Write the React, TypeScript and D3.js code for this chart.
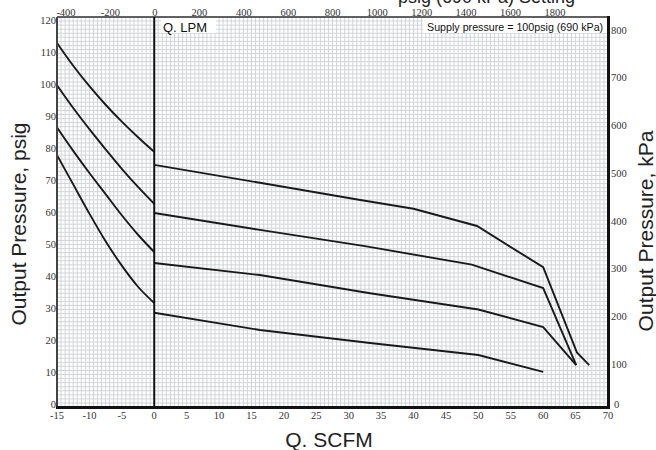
import * as d3 from 'd3';

// tick labels
const scfmTicks = [-15, -10, -5, 0, 5, 10, 15, 20, 25, 30, 35, 40, 45, 50, 55, 60, 65, 70];
const psigTicks = [0, 10, 20, 30, 40, 50, 60, 70, 80, 90, 100, 110, 120];
const kpaTicks = [0, 100, 200, 300, 400, 500, 600, 700, 800];
const lpmTicks = [-400, -200, 0, 200, 400, 600, 800, 1000, 1200, 1400, 1600, 1800];

// relief side (negative flow): [SCFM, psig]
const relief1: [number, number][] = [[-15, 112], [-12.5, 105], [-10, 98.7], [-7.5, 93], [-5, 87.8], [-2.5, 83], [0, 78.5]];
const relief2: [number, number][] = [[-15, 99], [-12.5, 92], [-10, 85.5], [-7.5, 79.3], [-5, 73.3], [-2.5, 67.7], [0, 62.5]];
const relief3: [number, number][] = [[-15, 86], [-12.5, 78.8], [-10, 72], [-7.5, 65.5], [-5, 59], [-2.5, 53], [0, 47.7]];
const relief4: [number, number][] = [[-15, 77.5], [-12.5, 68.5], [-10, 59.5], [-7.5, 51], [-5, 43.5], [-2.5, 37], [0, 32]];

// forward flow side: [SCFM, psig]
const flow1: [number, number][] = [[0, 74.5], [16.3, 69], [31.8, 63.7], [40, 61], [49.8, 55.7], [60, 43], [65.2, 16.8], [67.1, 12.9]];
const flow2: [number, number][] = [[0, 59.7], [16.3, 54.5], [32.5, 49.5], [49, 43.8], [60, 36.6], [65.1, 12.9]];
const flow3: [number, number][] = [[0, 44.3], [16.3, 40.6], [33.3, 35], [50, 30], [60, 24.6], [65.1, 12.9]];
const flow4: [number, number][] = [[0, 29], [16.3, 23.7], [33.3, 19.7], [50, 16], [60, 10.8]];

const reliefCurves = [relief1, relief2, relief3, relief4];
const flowCurves = [flow1, flow2, flow3, flow4];

const serif = 'Liberation Serif, Times New Roman, serif';
const sans = 'Liberation Sans, Arial, sans-serif';

export default function App() {
  const x = d3.scaleLinear().domain([-15, 70]).range([57, 608]);
  const y = d3.scaleLinear().domain([0, 120]).range([407, 17]);
  // psig labels sit a little inside the frame at both ends
  const yLabel = d3.scaleLinear().domain([0, 120]).range([404, 20]);
  const yKpa = d3.scaleLinear().domain([0, 800]).range([412, 30]);
  const xLpm = d3.scaleLinear().domain([-400, 1800]).range([66, 555]);

  const smooth = d3.line<[number, number]>()
    .x(d => x(d[0]))
    .y(d => y(d[1]))
    .curve(d3.curveMonotoneX);
  const straight = d3.line<[number, number]>()
    .x(d => x(d[0]))
    .y(d => y(d[1]));

  // graph paper
  const vGrid = d3.range(-15, 70.001, 0.625);
  const hGrid = d3.range(0, 120.001, 1.25);

  return (
    <svg width={656} height={450} style={{ position: 'fixed', left: 0, top: 0, background: '#fff' }}>
      <text x={398} y={3} fontFamily={sans} fontSize={18} fill="#222">psig (690 kPa) Setting</text>

      <rect x={57} y={17} width={551} height={390} fill="#fff" />
      <g stroke="#cdd1d4" strokeWidth={0.9}>
        {vGrid.map(v => <line key={'v' + v} x1={x(v)} x2={x(v)} y1={17} y2={407} />)}
        {hGrid.map(h => <line key={'h' + h} x1={57} x2={608} y1={y(h)} y2={y(h)} />)}
      </g>

      {/* labels in boxes */}
      <rect x={161} y={18} width={55} height={15} fill="#fff" />
      <text x={163} y={32} fontFamily={sans} fontSize={13} fill="#111">Q. LPM</text>
      <rect x={423} y={18} width={184} height={15} fill="#fff" />
      <text x={427} y={31} fontFamily={sans} fontSize={10.7} fill="#111">Supply pressure = 100psig (690 kPa)</text>

      {/* curves */}
      <g fill="none" stroke="#1a1a1a" strokeWidth={1.9}>
        {reliefCurves.map((c, i) => <path key={'r' + i} d={smooth(c) || ''} />)}
        {flowCurves.map((c, i) => <path key={'f' + i} d={straight(c) || ''} />)}
      </g>

      {/* frame */}
      <line x1={57} x2={608} y1={17} y2={17} stroke="#333" strokeWidth={1.5} />
      <line x1={57} x2={57} y1={17} y2={408} stroke="#444" strokeWidth={2} />
      <line x1={608.5} x2={608.5} y1={16} y2={409} stroke="#111" strokeWidth={3} />
      <line x1={56} x2={610} y1={407.5} y2={407.5} stroke="#111" strokeWidth={3} />
      <line x1={x(0)} x2={x(0)} y1={17} y2={407} stroke="#111" strokeWidth={2} />

      {/* tick labels */}
      <g fontFamily={serif} fontSize={10.5} fill="#333">
        {scfmTicks.map(t => <text key={'b' + t} x={x(t)} y={419} textAnchor="middle">{t}</text>)}
        {psigTicks.map(t => <text key={'l' + t} x={56} y={yLabel(t) + 3.5} textAnchor="end">{t}</text>)}
        {kpaTicks.map(t => (
          <text key={'k' + t} x={t === 0 ? 614 : 611} y={Math.min(yKpa(t) + 3.5, 408)} textAnchor="start">{t}</text>
        ))}
        {lpmTicks.map(t => <text key={'t' + t} x={xLpm(t)} y={16} textAnchor="middle">{t}</text>)}
      </g>

      {/* axis titles */}
      <text transform="translate(26,224) rotate(-90)" textAnchor="middle" fontFamily={sans} fontSize={21} fill="#222">Output Pressure, psig</text>
      <text transform="translate(653,231) rotate(-90)" textAnchor="middle" fontFamily={sans} fontSize={21} fill="#222">Output Pressure, kPa</text>
      <text x={329} y={447} textAnchor="middle" fontFamily={sans} fontSize={21} fill="#222">Q. SCFM</text>
    </svg>
  );
}
